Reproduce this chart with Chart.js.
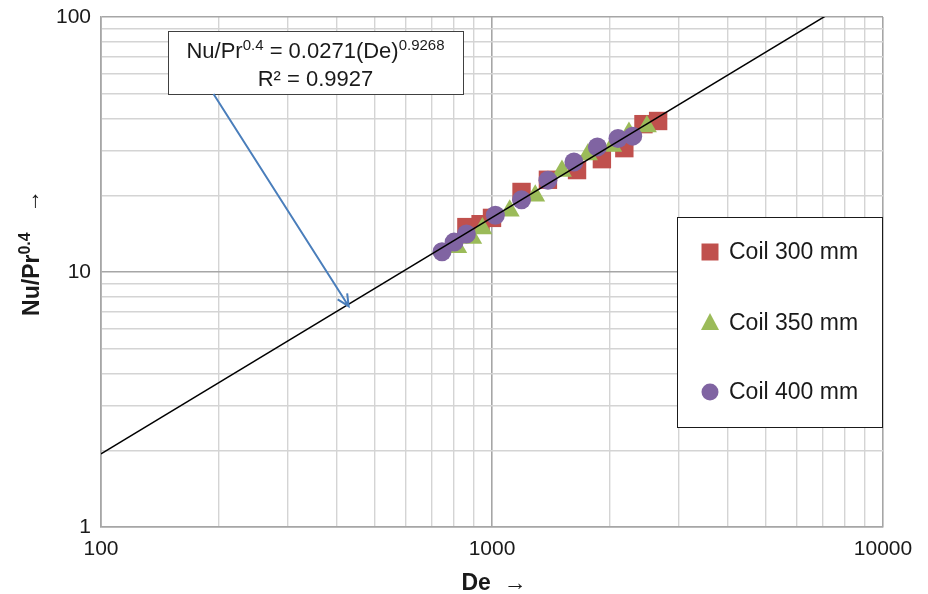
<!DOCTYPE html>
<html>
<head>
<meta charset="utf-8">
<script src="https://cdn.jsdelivr.net/npm/chart.js@4.4.1/dist/chart.umd.min.js"></script>
<style>
  html, body { margin: 0; padding: 0; background: #fff; }
  #wrap { width: 928px; height: 594px; }
</style>
</head>
<body>
<div id="wrap"><canvas id="chart" width="928" height="594"></canvas></div>
<script>
// --- data ---
const seriesNames = ['Coil 300 mm', 'Coil 350 mm', 'Coil 400 mm'];

const coil300De = [860, 935, 1000, 1190, 1390, 1650, 1910, 2180, 2440, 2660];
const coil300Nu = [15.0, 15.4, 16.3, 20.6, 23.0, 25.1, 27.7, 30.6, 38.0, 39.1];

const coil350De = [815, 890, 945, 1110, 1290, 1510, 1760, 2030, 2240, 2490];
const coil350Nu = [12.5, 13.6, 14.8, 17.4, 19.9, 24.9, 28.9, 31.2, 35.1, 37.2];

const coil400De = [745, 800, 860, 1020, 1190, 1390, 1620, 1860, 2100, 2290];
const coil400Nu = [12.0, 13.1, 14.1, 16.7, 19.2, 22.9, 27.0, 30.9, 33.4, 34.1];

// power-law fit Nu/Pr^0.4 = a * De^b
const fitA = 0.0271;
const fitB = 0.9268;
const fitR2 = 0.9927;
const fitDe = [100, 10000];

const xTickValues = [100, 200, 300, 400, 500, 600, 700, 800, 900,
                     1000, 2000, 3000, 4000, 5000, 6000, 7000, 8000, 9000, 10000];
const yTickValues = [1, 2, 3, 4, 5, 6, 7, 8, 9,
                     10, 20, 30, 40, 50, 60, 70, 80, 90, 100];
const xTickLabels = [100, 1000, 10000];
const yTickLabels = [1, 10, 100];

const colors = ['#C0504D', '#9BBB59', '#8064A2'];
const FONT = "'Liberation Sans', Arial, Helvetica, sans-serif";

const toPoints = (xs, ys) => xs.map((x, i) => ({ x: x, y: ys[i] }));

// draw text with superscript pieces: parts = [[text, isSup, weight?], ...]
function richWidth(ctx, parts, size, supSize, weight) {
    let w = 0;
    parts.forEach(([t, sup, wt]) => {
        ctx.font = `${wt || weight} ${sup ? supSize : size}px ${FONT}`;
        w += ctx.measureText(t).width;
    });
    return w;
}
function drawRich(ctx, parts, x, y, size, supSize, weight) {
    const total = richWidth(ctx, parts, size, supSize, weight);
    let cx = x - total / 2;
    ctx.textAlign = 'left';
    ctx.textBaseline = 'alphabetic';
    parts.forEach(([t, sup, wt]) => {
        ctx.font = `${wt || weight} ${sup ? supSize : size}px ${FONT}`;
        ctx.fillText(t, cx, sup ? y - size * 0.38 : y);
        cx += ctx.measureText(t).width;
    });
}

const majorValues = [1, 10, 100, 1000, 10000];
const gridColor = (ctx) => majorValues.includes(ctx.tick && ctx.tick.value) ? '#a6a6a6' : '#d4d4d4';
const gridWidth = (ctx) => majorValues.includes(ctx.tick && ctx.tick.value) ? 1.6 : 1.4;

// --- annotations, legend and axis titles ---
const overlayPlugin = {
    id: 'overlay',
    afterDraw(chart) {
        const ctx = chart.ctx;
        const xs = chart.scales.x, ys = chart.scales.y;
        ctx.save();

        // equation box
        const bx = 168, by = 31, bw = 295, bh = 63;
        ctx.fillStyle = '#fff';
        ctx.fillRect(bx, by, bw, bh);
        ctx.strokeStyle = '#404040';
        ctx.lineWidth = 1;
        ctx.strokeRect(bx + 0.5, by + 0.5, bw, bh);
        ctx.fillStyle = '#1a1a1a';
        drawRich(ctx, [['Nu/Pr', false], ['0.4', true], [' = ' + fitA + '(De)', false], [String(fitB), true]],
                 bx + bw / 2, by + 27, 22, 15, 'normal');
        drawRich(ctx, [['R² = ' + fitR2, false]], bx + bw / 2, by + 55, 22, 15, 'normal');

        // arrow from the box to the fit line
        const x0 = xs.getPixelForValue(194), y0 = by + bh;
        const tipDe = 430;
        const x1 = xs.getPixelForValue(tipDe), y1 = ys.getPixelForValue(fitA * Math.pow(tipDe, fitB)) + 2;
        ctx.strokeStyle = '#4A7EBB';
        ctx.lineWidth = 2;
        ctx.beginPath();
        ctx.moveTo(x0, y0);
        ctx.lineTo(x1, y1);
        const ang = Math.atan2(y1 - y0, x1 - x0);
        const head = 13;
        ctx.moveTo(x1 - head * Math.cos(ang - 0.45), y1 - head * Math.sin(ang - 0.45));
        ctx.lineTo(x1, y1);
        ctx.lineTo(x1 - head * Math.cos(ang + 0.45), y1 - head * Math.sin(ang + 0.45));
        ctx.stroke();

        // legend box
        const lx = 677, ly = 217, lw = 205, lh = 210;
        ctx.fillStyle = '#fff';
        ctx.fillRect(lx, ly, lw, lh);
        ctx.strokeStyle = '#1a1a1a';
        ctx.lineWidth = 1;
        ctx.strokeRect(lx + 0.5, ly + 0.5, lw, lh);
        const rowY = [252, 323, 392];
        seriesNames.forEach((name, i) => {
            const mx = 710, my = rowY[i];
            ctx.fillStyle = colors[i];
            ctx.beginPath();
            if (i === 0) {
                ctx.rect(mx - 8.5, my - 8.5, 17, 17);
            } else if (i === 1) {
                ctx.moveTo(mx, my - 10);
                ctx.lineTo(mx + 9, my + 7);
                ctx.lineTo(mx - 9, my + 7);
                ctx.closePath();
            } else {
                ctx.arc(mx, my, 8.5, 0, Math.PI * 2);
            }
            ctx.fill();
            ctx.fillStyle = '#1a1a1a';
            ctx.font = `23px ${FONT}`;
            ctx.textAlign = 'left';
            ctx.textBaseline = 'middle';
            ctx.fillText(name, 729, my + 1);
        });

        // axis titles
        ctx.fillStyle = '#1a1a1a';
        drawRich(ctx, [['De', false], ['  \u2192', false, 'normal']], 494, 590, 23, 15, 'bold');

        ctx.translate(39, 253);
        ctx.rotate(-Math.PI / 2);
        drawRich(ctx, [['Nu/Pr', false], ['0.4', true], ['   \u2192', false, 'normal']], 0, 0, 23, 16, 'bold');

        ctx.restore();
    }
};

new Chart(document.getElementById('chart'), {
    type: 'scatter',
    data: {
        datasets: [
            {
                label: 'fit',
                type: 'line',
                data: fitDe.map(x => ({ x: x, y: fitA * Math.pow(x, fitB) })),
                borderColor: '#000',
                borderWidth: 1.5,
                pointRadius: 0,
                fill: false,
                order: 0
            },
            {
                label: seriesNames[0],
                data: toPoints(coil300De, coil300Nu),
                pointStyle: 'rect',
                pointRadius: 13,
                backgroundColor: colors[0],
                borderWidth: 0,
                order: 3
            },
            {
                label: seriesNames[1],
                data: toPoints(coil350De, coil350Nu),
                pointStyle: 'triangle',
                pointRadius: 11.5,
                backgroundColor: colors[1],
                borderWidth: 0,
                order: 2
            },
            {
                label: seriesNames[2],
                data: toPoints(coil400De, coil400Nu),
                pointStyle: 'circle',
                pointRadius: 9.5,
                backgroundColor: colors[2],
                borderWidth: 0,
                order: 1
            }
        ]
    },
    options: {
        responsive: false,
        animation: false,
        layout: { padding: { left: 0, top: 17, right: 45, bottom: 0 } },
        plugins: {
            legend: { display: false },
            tooltip: { enabled: false }
        },
        scales: {
            x: {
                type: 'logarithmic',
                min: 100,
                max: 10000,
                afterBuildTicks: (scale) => { scale.ticks = xTickValues.map(v => ({ value: v })); },
                afterFit: (scale) => {
                    scale.height = 67;
                    scale.paddingLeft = 0;
                    scale.paddingRight = 0;
                },
                ticks: {
                    autoSkip: false,
                    maxRotation: 0,
                    padding: 10,
                    color: '#1a1a1a',
                    font: { family: FONT, size: 21 },
                    callback: (v) => xTickLabels.includes(v) ? String(v) : ''
                },
                grid: { color: gridColor, lineWidth: gridWidth, drawTicks: false },
                border: { color: '#a6a6a6', width: 1.6 }
            },
            y: {
                type: 'logarithmic',
                min: 1,
                max: 100,
                afterBuildTicks: (scale) => { scale.ticks = yTickValues.map(v => ({ value: v })); },
                afterFit: (scale) => {
                    scale.width = 101;
                    scale.paddingTop = 0;
                    scale.paddingBottom = 0;
                },
                ticks: {
                    autoSkip: false,
                    padding: 10,
                    color: '#1a1a1a',
                    font: { family: FONT, size: 21 },
                    callback: (v) => yTickLabels.includes(v) ? String(v) : ''
                },
                grid: { color: gridColor, lineWidth: gridWidth, drawTicks: false },
                border: { color: '#a6a6a6', width: 1.6 }
            }
        }
    },
    plugins: [overlayPlugin]
});
</script>
</body>
</html>
